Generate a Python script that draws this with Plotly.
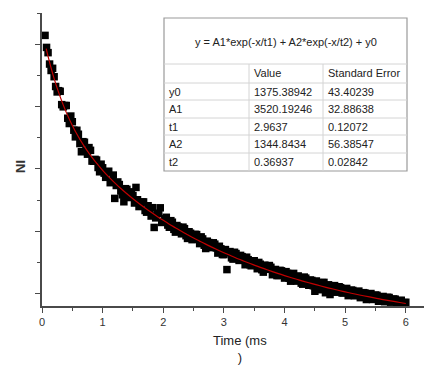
import plotly.graph_objects as go

# ---------------- data ----------------
time_ms_a = [0.05, 0.10, 0.15, 0.20, 0.25, 0.30, 0.35, 0.40, 0.45, 0.50,
             0.55, 0.60, 0.65, 0.70, 0.75, 0.80, 0.85, 0.90, 0.95, 1.00,
             1.05, 1.10, 1.15, 1.20, 1.25, 1.30, 1.35, 1.40, 1.45, 1.50,
             1.55, 1.60, 1.65, 1.70, 1.75, 1.80, 1.85, 1.90, 1.95, 2.00,
             2.05, 2.10, 2.15, 2.20, 2.25, 2.30, 2.35, 2.40, 2.45, 2.50,
             2.55, 2.60, 2.65, 2.70, 2.75, 2.80, 2.85, 2.90, 2.95, 3.00,
             3.05, 3.10, 3.15, 3.20, 3.25, 3.30, 3.35, 3.40, 3.45, 3.50,
             3.55, 3.60, 3.65, 3.70, 3.75, 3.80, 3.85, 3.90, 3.95, 4.00,
             4.05, 4.10, 4.15, 4.20, 4.25, 4.30, 4.35, 4.40, 4.45, 4.50,
             4.55, 4.60, 4.65, 4.70, 4.75, 4.80, 4.85, 4.90, 4.95, 5.00,
             5.05, 5.10, 5.15, 5.20, 5.25, 5.30, 5.35, 5.40, 5.45, 5.50,
             5.55, 5.60, 5.65, 5.70, 5.75, 5.80, 5.85, 5.90, 5.95, 6.00]
ni_values_a = [6141, 5864, 5578, 5478, 5234, 5244, 4995, 5016, 4727, 4756,
               4513, 4555, 4274, 4427, 4235, 4297, 4122, 4141, 3953, 4017,
               3864, 3962, 3793, 3526, 3790, 3645, 3472, 3671, 3540, 3571,
               3702, 3395, 3468, 3332, 3408, 3243, 3060, 3287, 3375, 3144,
               3223, 3063, 3144, 2985, 3066, 2958, 3041, 2884, 2967, 2871,
               2946, 2801, 2876, 2722, 2818, 2755, 2792, 2649, 2717, 2625,
               2384, 2673, 2552, 2641, 2531, 2592, 2462, 2543, 2445, 2526,
               2398, 2470, 2343, 2426, 2449, 2302, 2386, 2290, 2364, 2248,
               2323, 2198, 2323, 2199, 2254, 2150, 2247, 2133, 2210, 2037,
               2174, 2061, 2179, 2076, 1984, 2122, 2021, 2109, 2008, 2067,
               1966, 2055, 1965, 2024, 1934, 2014, 1904, 1985, 1905, 1976,
               1876, 1947, 1869, 1940, 1861, 1913, 1844, 1886, 1838, 1860]

time_ms_b = [0.075, 0.125, 0.175, 0.225, 0.275, 0.325, 0.375, 0.425, 0.475, 0.525,
             0.575, 0.625, 0.675, 0.725, 0.775, 0.825, 0.875, 0.925, 0.975, 1.025,
             1.075, 1.125, 1.175, 1.225, 1.275, 1.325, 1.375, 1.425, 1.475, 1.525,
             1.575, 1.625, 1.675, 1.725, 1.775, 1.825, 1.875, 1.925, 1.975, 2.025,
             2.075, 2.125, 2.175, 2.225, 2.275, 2.325, 2.375, 2.425, 2.475, 2.525,
             2.575, 2.625, 2.675, 2.725, 2.775, 2.825, 2.875, 2.925, 2.975, 3.025,
             3.075, 3.125, 3.175, 3.225, 3.275, 3.325, 3.375, 3.425, 3.475, 3.525,
             3.575, 3.625, 3.675, 3.725, 3.775, 3.825, 3.875, 3.925, 3.975, 4.025,
             4.075, 4.125, 4.175, 4.225, 4.275, 4.325, 4.375, 4.425, 4.475, 4.525,
             4.575, 4.625, 4.675, 4.725, 4.775, 4.825, 4.875, 4.925, 4.975, 5.025,
             5.075, 5.125, 5.175, 5.225, 5.275, 5.325, 5.375, 5.425, 5.475, 5.525,
             5.575, 5.625, 5.675, 5.725, 5.775, 5.825, 5.875, 5.925, 5.975]
ni_values_b = [5948, 5681, 5613, 5321, 5254, 5030, 5016, 4812, 4847, 4620,
               4619, 4405, 4436, 4301, 4341, 4125, 4152, 4022, 4075, 3931,
               3948, 3778, 3900, 3733, 3748, 3584, 3682, 3551, 3631, 3452,
               3504, 3407, 3470, 3305, 3351, 3377, 3214, 3281, 3140, 3199,
               3098, 3169, 3030, 3091, 3022, 3065, 2928, 2991, 2864, 2949,
               2874, 2909, 2774, 2840, 2737, 2814, 2731, 2758, 2626, 2705,
               2654, 2573, 2662, 2571, 2612, 2542, 2583, 2464, 2526, 2467,
               2499, 2382, 2455, 2388, 2421, 2364, 2288, 2372, 2306, 2351,
               2246, 2311, 2246, 2282, 2167, 2264, 2190, 2217, 2124, 2201,
               2108, 2175, 2013, 2140, 2058, 2127, 2065, 2094, 2013, 2082,
               2021, 2050, 1970, 2039, 1979, 2009, 1940, 2000, 1951, 1971,
               1922, 1953, 1905, 1936, 1887, 1909, 1870, 1892, 1854]

fit_time = [0.07, 0.1, 0.2, 0.3, 0.4, 0.5, 0.6, 0.7, 0.8, 0.9, 1.0,
            1.1, 1.2, 1.3, 1.4, 1.5, 1.6, 1.7, 1.8, 1.9, 2.0,
            2.1, 2.2, 2.3, 2.4, 2.5, 2.6, 2.7, 2.8, 2.9, 3.0,
            3.1, 3.2, 3.3, 3.4, 3.5, 3.6, 3.7, 3.8, 3.9, 4.0,
            4.1, 4.2, 4.3, 4.4, 4.5, 4.6, 4.7, 4.8, 4.9, 5.0,
            5.1, 5.2, 5.3, 5.4, 5.5, 5.6, 5.7, 5.8, 5.9, 6.0]
fit_values = [5930, 5804, 5448, 5154, 4906, 4696, 4515, 4357, 4217, 4091, 3977,
              3872, 3776, 3685, 3601, 3521, 3445, 3372, 3303, 3237, 3174,
              3113, 3055, 2998, 2944, 2891, 2841, 2792, 2745, 2699, 2655,
              2613, 2571, 2532, 2493, 2456, 2420, 2386, 2352, 2320, 2288,
              2258, 2229, 2200, 2173, 2147, 2121, 2096, 2072, 2049, 2027,
              2005, 1984, 1964, 1945, 1926, 1907, 1890, 1873, 1856, 1840]

x_tick_labels = ["0", "1", "2", "3", "4", "5", "6"]

equation = "y = A1*exp(-x/t1) + A2*exp(-x/t2) + y0"
table_header = ["", "Value", "Standard Error"]
param_names = ["y0", "A1", "t1", "A2", "t2"]
param_values = ["1375.38942", "3520.19246", "2.9637", "1344.8434", "0.36937"]
param_errors = ["43.40239", "32.88638", "0.12072", "56.38547", "0.02842"]

# ---------------- figure ----------------
W, H = 426, 365
L, R, T, B = 42, 2, 13, 59
PW, PH = W - L - R, H - T - B
FONT = "Arial, Liberation Sans, sans-serif"


def px(xp):
    return (xp - L) / PW


def py(yp):
    return (H - B - yp) / PH


fig = go.Figure()
fig.add_trace(go.Scatter(
    x=time_ms_a + time_ms_b, y=ni_values_a + ni_values_b, mode="markers",
    marker=dict(symbol="square", size=7.5, color="black", line=dict(width=0)),
    showlegend=False, hoverinfo="skip"))
fig.add_trace(go.Scatter(
    x=fit_time, y=fit_values, mode="lines", line_shape="spline",
    line=dict(color="#c00000", width=1.2),
    showlegend=False, hoverinfo="skip"))

axis_col = "#4a4a4a"
fig.update_layout(
    width=W, height=H,
    margin=dict(l=L, r=R, t=T, b=B, pad=0),
    paper_bgcolor="white", plot_bgcolor="white",
    font=dict(family=FONT, size=11, color="#222"),
    xaxis=dict(range=[0, 6.3], showgrid=False, zeroline=False,
               showline=True, linecolor=axis_col, linewidth=1.5,
               ticks="outside", ticklen=5, tickwidth=1, tickcolor=axis_col,
               tickvals=[0, 1, 2, 3, 4, 5, 6], ticktext=x_tick_labels,
               tickfont=dict(size=11, color="#333"),
               minor=dict(ticks="outside", ticklen=3, dtick=0.5, tick0=0,
                          tickcolor=axis_col, showgrid=False)),
    yaxis=dict(range=[1800, 6500], showgrid=False, zeroline=False,
               showline=True, linecolor=axis_col, linewidth=1.5,
               ticks="outside", ticklen=5, tickwidth=1, tickcolor=axis_col,
               tick0=0, dtick=1000, showticklabels=False,
               minor=dict(ticks="outside", ticklen=3, dtick=500, tick0=0,
                          tickcolor=axis_col, showgrid=False)),
)

annotations = []
shapes = []

# axis titles
annotations.append(dict(xref="paper", yref="paper", x=px(240), y=py(349),
                        text="Time (ms<br>)", showarrow=False,
                        font=dict(size=13, color="#222"),
                        xanchor="center", yanchor="middle"))
annotations.append(dict(xref="paper", yref="paper", x=px(20), y=py(167),
                        text="<b>NI</b>", showarrow=False, textangle=-90,
                        font=dict(size=13, color="#333"),
                        xanchor="center", yanchor="middle"))

# results table
bx0, bx1, by0, by1 = 164, 407, 18, 171
col_x = [164, 249, 323, 407]
row_y = [64, 83, 100, 118, 135, 153, 171]
shapes.append(dict(type="rect", xref="paper", yref="paper",
                   x0=px(bx0), x1=px(bx1), y0=py(by1), y1=py(by0),
                   fillcolor="white", line=dict(color="#9a9a9a", width=1.2),
                   layer="above"))
for yy in row_y[:-1]:
    shapes.append(dict(type="line", xref="paper", yref="paper",
                       x0=px(bx0), x1=px(bx1), y0=py(yy), y1=py(yy),
                       line=dict(color="#d4d4d4", width=1), layer="above"))
for xx in col_x[1:-1]:
    shapes.append(dict(type="line", xref="paper", yref="paper",
                       x0=px(xx), x1=px(xx), y0=py(row_y[0]), y1=py(by1),
                       line=dict(color="#d4d4d4", width=1), layer="above"))

annotations.append(dict(xref="paper", yref="paper", x=px((bx0 + bx1) / 2), y=py(42),
                        text=equation, showarrow=False,
                        font=dict(size=11, color="#222"),
                        xanchor="center", yanchor="middle"))
rows = [table_header] + [[n, v, e] for n, v, e in zip(param_names, param_values, param_errors)]
for i, row in enumerate(rows):
    yc = (row_y[i] + row_y[i + 1]) / 2
    for j, txt in enumerate(row):
        if not txt:
            continue
        annotations.append(dict(xref="paper", yref="paper", x=px(col_x[j] + 3), y=py(yc),
                                text=txt, showarrow=False,
                                font=dict(size=11, color="#222"),
                                xanchor="left", yanchor="middle"))

fig.update_layout(annotations=annotations, shapes=shapes)
fig.write_html("out.html")
